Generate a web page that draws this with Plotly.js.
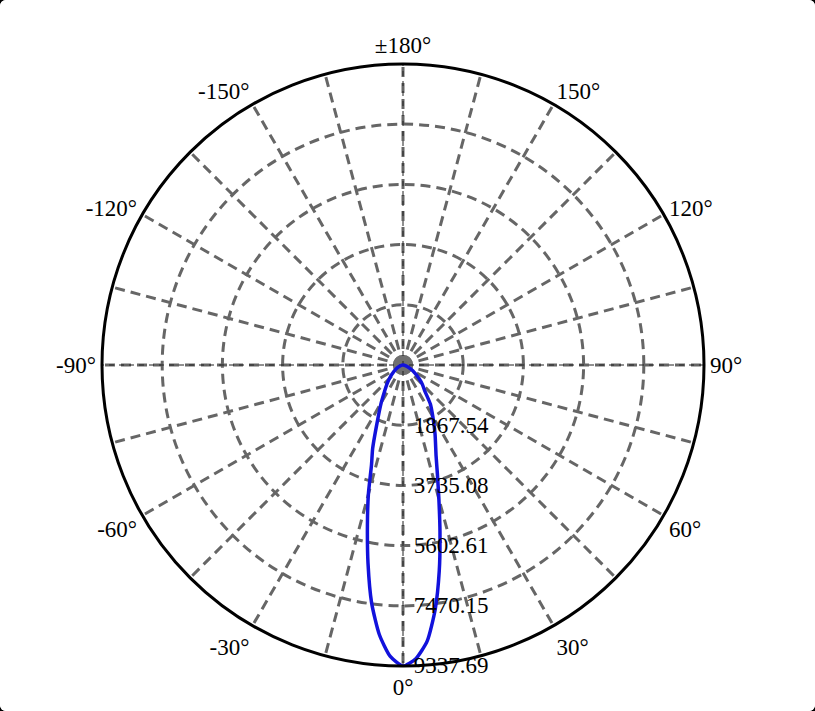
<!DOCTYPE html>
<html>
<head>
<meta charset="utf-8">
<script src="https://cdn.plot.ly/plotly-3.0.1.min.js"></script>
<style>
  html, body { margin: 0; padding: 0; background: #000; }
  #myDiv { width: 815px; height: 711px; background: #fff; border-radius: 6px; overflow: hidden; }
</style>
</head>
<body>
<div id="myDiv"></div>
<script>
// intensity (cd) vs angle (deg)
var angles = [-90, -80, -70, -60, -50, -45, -40, -35, -30, -25, -20, -17.5, -15, -12.5, -10, -7.5, -5, -2.5,
              0, 2.5, 5, 7.5, 10, 12.5, 15, 17.5, 20, 25, 30, 35, 40, 45, 50, 60, 70, 80, 90];
var intensity = [0, 30, 100, 250, 450, 600, 780, 1000, 1350, 1850, 2750, 3250, 4150, 5100, 6250, 7450, 8400, 9050,
                 9337.69, 9120, 8600, 7650, 6480, 5300, 4300, 3550, 3000, 2350, 1850, 1480, 1050, 850, 650, 350, 150, 40, 0];

var rMax = 9337.69;
var radialTicks = [1867.54, 3735.08, 5602.61, 7470.15, 9337.69];

var angTickVals = [], angTickText = [];
for (var a = 0; a < 360; a += 15) {
    angTickVals.push(a);
    if (a % 30 !== 0) { angTickText.push(''); continue; }
    var lbl = a > 180 ? a - 360 : a;
    angTickText.push(a === 180 ? '\u00b1180\u00b0' : lbl + '\u00b0');
}

var serif = 'Liberation Serif, Times New Roman, serif';
var gridDash = '10px,6px';

var centre = {
    type: 'scatterpolar',
    r: [0], theta: [0],
    mode: 'markers',
    marker: {size: 20, color: '#707070'},
    hoverinfo: 'skip'
};

// thin dark dashed lines along the 0/180 and 90/-90 axes
var axisV = {
    type: 'scatterpolar',
    r: [rMax, 0, rMax], theta: [0, 0, 180],
    mode: 'lines',
    line: {color: '#222', width: 1, dash: '5px,5px'},
    hoverinfo: 'skip'
};
var axisH = {
    type: 'scatterpolar',
    r: [rMax, 0, rMax], theta: [90, 90, -90],
    mode: 'lines',
    line: {color: '#222', width: 1, dash: '5px,5px'},
    hoverinfo: 'skip'
};

var curve = {
    type: 'scatterpolar',
    r: intensity,
    theta: angles,
    mode: 'lines',
    line: {color: '#1212dc', width: 3.5, shape: 'spline', smoothing: 0.6},
    hoverinfo: 'skip'
};

var layout = {
    width: 815, height: 711,
    margin: {l: 102, r: 111, t: 64, b: 45},
    paper_bgcolor: '#fff',
    showlegend: false,
    font: {family: serif, size: 23, color: '#000'},
    polar: {
        domain: {x: [0, 1], y: [0, 1]},
        bgcolor: '#fff',
        radialaxis: {
            range: [0, rMax],
            tickmode: 'array',
            tickvals: radialTicks,
            // small gap so the labels sit clear of the axis line
            ticktext: radialTicks.map(function (v) { return '\u2009\u00a0' + v.toFixed(2); }),
            angle: 270,
            tickangle: -90,
            side: 'counterclockwise',
            ticks: '',
            showline: false,
            gridcolor: '#666',
            gridwidth: 3,
            griddash: gridDash,
            tickfont: {family: serif, size: 23, color: '#000'}
        },
        angularaxis: {
            rotation: 270,
            direction: 'counterclockwise',
            tickmode: 'array',
            tickvals: angTickVals,
            ticktext: angTickText,
            ticks: '',
            showline: true,
            linecolor: '#000',
            linewidth: 3,
            gridcolor: '#666',
            gridwidth: 3,
            griddash: gridDash,
            tickfont: {family: serif, size: 23, color: '#000'}
        }
    }
};

Plotly.newPlot('myDiv', [centre, axisV, axisH, curve], layout, {displayModeBar: false, staticPlot: true});
</script>
</body>
</html>
